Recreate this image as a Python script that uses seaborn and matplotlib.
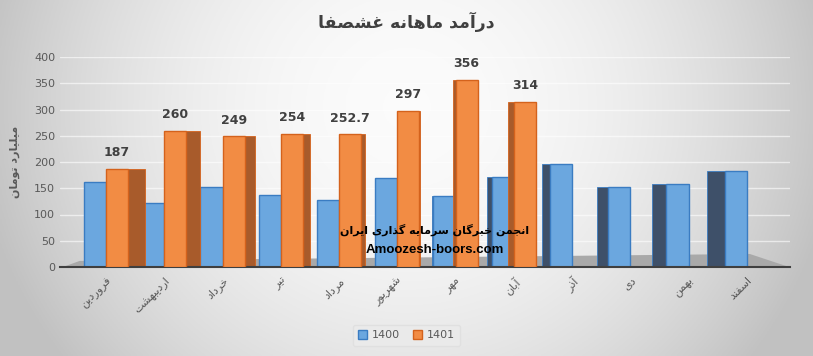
import matplotlib
matplotlib.use('Agg')
import matplotlib.pyplot as plt
from matplotlib.patches import Polygon, Patch
import numpy as np
import pandas as pd
import seaborn as sns

# data
months = ['فروردین', 'اردیبهشت', 'خرداد', 'تیر', 'مرداد', 'شهریور',
          'مهر', 'آبان', 'آذر', 'دی', 'بهمن', 'اسفند']
sales_1400 = [161, 122, 153, 137, 127, 169, 135, 172, 197, 152, 158, 183]
sales_1401 = [187, 260, 249, 254, 252.7, 297, 356, 314]
years = ['1400', '1401']
colors = {'1400': '#6ba7df', '1401': '#f28c44'}
edges = {'1400': '#3a7cc2', '1401': '#d4621c'}
sides = {'1400': '#3e5069', '1401': '#a85b2b'}

title = 'درآمد ماهانه غشصفا'
ylab = 'میلیارد تومان'
mark_fa = 'انجمن خبرگان سرمایه گذاری ایران'
mark_en = 'Amoozesh-boors.com'

# --- minimal persian shaping (matplotlib has no bidi / joining) ---
RIGHT_ONLY = {'ا': 0xFE8D, 'آ': 0xFE81, 'د': 0xFEA9, 'ذ': 0xFEAB, 'ر': 0xFEAD, 'و': 0xFEED}
DUAL = {'ب': 0xFE8F, 'ت': 0xFE95, 'ج': 0xFE9D, 'خ': 0xFEA5, 'س': 0xFEB1, 'ش': 0xFEB5,
        'ص': 0xFEB9, 'غ': 0xFECD, 'ف': 0xFED1, 'ل': 0xFEDD, 'م': 0xFEE1, 'ن': 0xFEE5,
        'ه': 0xFEE9, 'ی': 0xFBFC, 'ي': 0xFBFC, 'گ': 0xFB92}


def fa(text):
    out = []
    for i, ch in enumerate(text):
        base = DUAL.get(ch, RIGHT_ONLY.get(ch))
        if base is None:
            out.append(ch)
            continue
        prev = text[i - 1] if i > 0 else ''
        nxt = text[i + 1] if i + 1 < len(text) else ''
        jp = prev in DUAL
        jn = ch in DUAL and (nxt in DUAL or nxt in RIGHT_ONLY)
        k = 3 if (jp and jn) else 2 if jn else 1 if jp else 0
        out.append(chr(base + k))
    return ''.join(reversed(out))


rows = []
for i, m in enumerate(months):
    rows.append({'month': m, 'year': '1400', 'value': sales_1400[i]})
    if i < len(sales_1401):
        rows.append({'month': m, 'year': '1401', 'value': sales_1401[i]})
df = pd.DataFrame(rows)

sns.set_theme(style='white')
plt.rcParams['font.family'] = ['DejaVu Sans']

fig = plt.figure(figsize=(8.13, 3.56), dpi=100)

# radial grey background
bg = fig.add_axes([0, 0, 1, 1], zorder=-5)
gx, gy = np.meshgrid(np.linspace(0, 1, 400), np.linspace(0, 1, 200))
r = np.sqrt(((gx - 0.5) / 0.5) ** 2 + ((gy - 0.3) / 1.1) ** 2)
shade = np.clip(0.985 - 0.2 * r ** 2, 0.76, 1)
bg.imshow(np.dstack([shade] * 3), aspect='auto', extent=[0, 1, 0, 1])
bg.axis('off')

ax = fig.add_axes([60 / 813, 89 / 356, 730 / 813, 210 / 356])
ax.set_facecolor('none')

sns.barplot(data=df, x='month', y='value', hue='year', order=months, hue_order=years,
            palette=colors, saturation=1, width=0.76, ax=ax, legend=False, zorder=2)

ax.set_xlim(-0.79, 11.74)
ax.set_ylim(0, 400)
ax.set_yticks(range(0, 401, 50))

# floor
floor = Polygon([(0, -0.005), (1.003, -0.005), (0.945, 0.062), (0.027, 0.029)],
                closed=True, transform=ax.transAxes, facecolor='#a9a9a9',
                edgecolor='none', zorder=0.5)
ax.add_patch(floor)

# side faces to fake the 3d look
vx = 5.39
for yr, cont in zip(years, ax.containers):
    zb = 2 if yr == '1400' else 3
    for p in cont:
        p.set_edgecolor(edges[yr])
        p.set_linewidth(1.0)
        p.set_zorder(zb)
        x, w, h = p.get_x(), p.get_width(), p.get_height()
        c = x + w / 2
        s = 0.055 * abs(c - vx)
        if c < vx:
            pts = [(x + w, 0), (x + w + s, 0), (x + w + s, h), (x + w, h)]
        else:
            pts = [(x - s, 0), (x, 0), (x, h), (x - s, h)]
        zs = zb - 0.1 if yr == '1400' else 2.5
        ax.add_patch(Polygon(pts, closed=True, facecolor=sides[yr],
                             edgecolor=edges[yr], lw=0.6, zorder=zs))

ax.bar_label(ax.containers[1], labels=['%g' % v for v in sales_1401], padding=7,
             fontsize=9, fontweight='bold', color='#404040')

ax.grid(axis='y', color='white', lw=1.0, alpha=0.6)
ax.set_axisbelow(True)
for sp in ['top', 'right', 'left']:
    ax.spines[sp].set_visible(False)
ax.spines['bottom'].set_color('#3f3f3f')
ax.spines['bottom'].set_linewidth(1.5)
ax.tick_params(length=0, labelsize=8, colors='#595959')
ax.tick_params(axis='x', pad=6)
ax.set_xticks(range(len(months)))
ax.set_xticklabels([fa(m) for m in months], rotation=45, ha='right',
                   rotation_mode='anchor')
ax.set_xlabel('')
ax.set_ylabel(fa(ylab), fontsize=8, fontweight='bold', color='#595959', labelpad=10)

fig.text(0.5, 1 - 22 / 356, fa(title), ha='center', va='center', fontsize=12.5,
         fontweight='bold', color='#404040')
fig.text(435 / 813, 1 - 230 / 356, fa(mark_fa), ha='center', va='center',
         fontsize=8, fontweight='bold', color='black', zorder=10)
fig.text(435 / 813, 1 - 250 / 356, mark_en, ha='center', va='center',
         fontsize=9.5, fontweight='bold', color='black', family='Liberation Sans', zorder=10)

handles = [Patch(facecolor=colors[y], edgecolor=edges[y], label=y) for y in years]
leg = fig.legend(handles=handles, loc='center', bbox_to_anchor=(0.5, 0.058), ncol=2,
                 fontsize=8, frameon=True, handlelength=0.8, handleheight=0.8,
                 handletextpad=0.4, columnspacing=1.2, borderpad=0.5)
leg.get_frame().set_facecolor('#ebebeb')
leg.get_frame().set_edgecolor('#dedede')
for t in leg.get_texts():
    t.set_color('#595959')

fig.savefig('out.png', dpi=100)
